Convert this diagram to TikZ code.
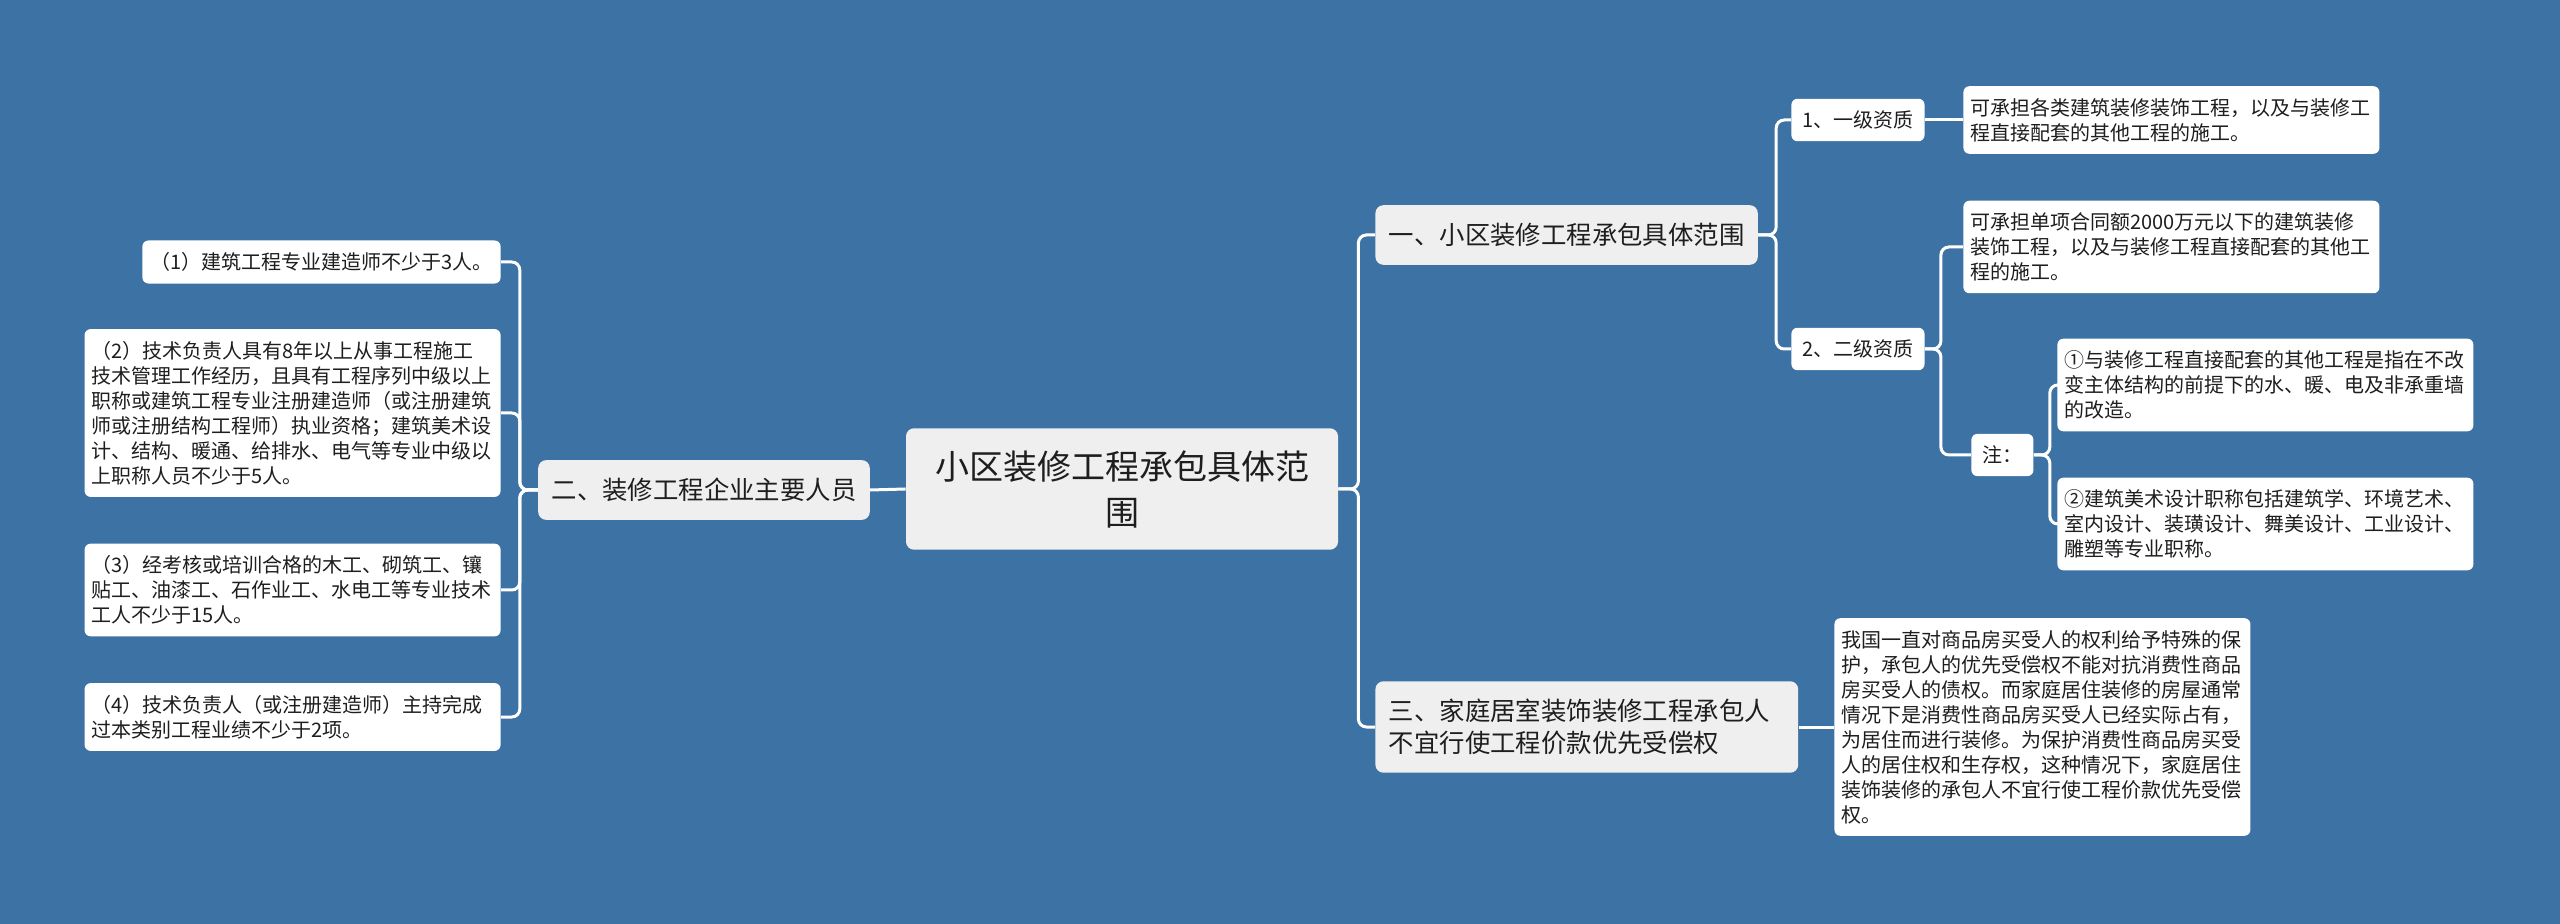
\documentclass[tikz,border=0pt]{standalone}
\usepackage{fontspec}
\setmainfont{Noto Sans CJK SC}

\begin{document}
\begin{tikzpicture}[x=0.5pt, y=-0.5pt,
    root/.style={fill=boxGrey, text=inkColour, rounded corners=4pt, align=center, text width=188pt,
        font=\fontsize{17pt}{23pt}\selectfont, inner xsep=14pt, inner ysep=11pt},
    topic/.style={fill=boxGrey, text=inkColour, rounded corners=4pt,
        font=\fontsize{12.7pt}{15.8pt}\selectfont, inner xsep=6.7pt, inner ysep=9pt},
    subtopic/.style={fill=white, text=inkColour, rounded corners=3pt,
        font=\fontsize{10pt}{12.5pt}\selectfont, inner xsep=5.5pt, inner ysep=6pt},
    leaf/.style={fill=white, text=inkColour, rounded corners=3pt, align=left,
        font=\fontsize{10pt}{12.5pt}\selectfont, inner xsep=4pt, inner ysep=6pt},
    para/.style={leaf, text width=201pt, inner xsep=3.5pt},
    link/.style={draw=white, line width=1.5pt, rounded corners=4pt}]
    % Define colours
    \definecolor{bgBlue}{HTML}{3D72A4}
    \definecolor{boxGrey}{HTML}{EFEFEF}
    \definecolor{inkColour}{HTML}{1E1E1E}

    % Background
    \fill[bgBlue] (0,0) rectangle (2560,924);

    % Central topic
    \node[root] (ctr) at (1122,489) {小区装修工程承包具体范\\围};

    % Left branch: staff
    \node[topic] (staff) at (704,490) {二、装修工程企业主要人员};
    \node[leaf, anchor=east] (staffA) at (501,262) {（1）建筑工程专业建造师不少于3人。};
    \node[para, anchor=east] (staffB) at (501,413) {（2）技术负责人具有8年以上从事工程施工\\技术管理工作经历，且具有工程序列中级以上\\职称或建筑工程专业注册建造师（或注册建筑\\师或注册结构工程师）执业资格；建筑美术设\\计、结构、暖通、给排水、电气等专业中级以\\上职称人员不少于5人。};
    \node[para, anchor=east] (staffC) at (501,590) {（3）经考核或培训合格的木工、砌筑工、镶\\贴工、油漆工、石作业工、水电工等专业技术\\工人不少于15人。};
    \node[para, anchor=east] (staffD) at (501,717) {（4）技术负责人（或注册建造师）主持完成\\过本类别工程业绩不少于2项。};

    % Right branch: scope
    \node[topic, anchor=west] (scope) at (1375,235) {一、小区装修工程承包具体范围};
    \node[subtopic, anchor=west] (gradeA) at (1791,120) {1、一级资质};
    \node[para, anchor=west] (gradeAtxt) at (1963,120) {可承担各类建筑装修装饰工程，以及与装修工\\程直接配套的其他工程的施工。};
    \node[subtopic, anchor=west] (gradeB) at (1791,349) {2、二级资质};
    \node[para, anchor=west] (gradeBtxt) at (1963,247) {可承担单项合同额2000万元以下的建筑装修\\装饰工程，以及与装修工程直接配套的其他工\\程的施工。};
    \node[subtopic, anchor=west] (note) at (1971,455) {注：};
    \node[para, anchor=west] (noteA) at (2057,385) {①与装修工程直接配套的其他工程是指在不改\\变主体结构的前提下的水、暖、电及非承重墙\\的改造。};
    \node[para, anchor=west] (noteB) at (2057,524) {②建筑美术设计职称包括建筑学、环境艺术、\\室内设计、装璜设计、舞美设计、工业设计、\\雕塑等专业职称。};

    % Right branch: home decoration
    \node[topic, anchor=west, align=left, text width=198pt] (home) at (1375,727) {三、家庭居室装饰装修工程承包人\\不宜行使工程价款优先受偿权};
    \node[para, anchor=west] (homeTxt) at (1834,727) {我国一直对商品房买受人的权利给予特殊的保\\护，承包人的优先受偿权不能对抗消费性商品\\房买受人的债权。而家庭居住装修的房屋通常\\情况下是消费性商品房买受人已经实际占有，\\为居住而进行装修。为保护消费性商品房买受\\人的居住权和生存权，这种情况下，家庭居住\\装饰装修的承包人不宜行使工程价款优先受偿\\权。};

    % Draw connectors
    \draw[link] (ctr.west) -- (staff.east);
    \foreach \n in {scope,home}
        \draw[link] (ctr.east) -- ++(10pt,0) |- (\n.west);
    \foreach \n in {staffA,staffB,staffC,staffD}
        \draw[link] (staff.west) -- ++(-9pt,0) |- (\n.east);
    \foreach \n in {gradeA,gradeB}
        \draw[link] (scope.east) -- ++(9pt,0) |- (\n.west);
    \draw[link] (gradeA.east) -- (gradeAtxt.west);
    \foreach \n in {gradeBtxt,note}
        \draw[link] (gradeB.east) -- ++(8pt,0) |- (\n.west);
    \foreach \n in {noteA,noteB}
        \draw[link] (note.east) -- ++(8pt,0) |- (\n.west);
    \draw[link] (home.east) -- (homeTxt.west);

\end{tikzpicture}
\end{document}
